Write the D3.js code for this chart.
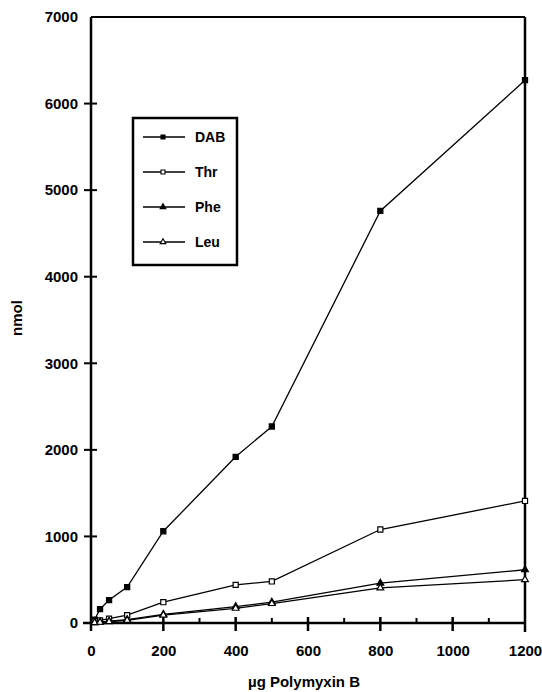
<!DOCTYPE html>
<html>
<head>
<meta charset="utf-8">
<script src="https://cdn.jsdelivr.net/npm/d3@7"></script>
<style>
body { margin: 0; background: #fff; }
text { font-family: "Liberation Sans", Arial, sans-serif; font-weight: bold; }
</style>
</head>
<body>
<svg id="chart" width="542" height="692"></svg>
<script>
// data
var doses = [10, 25, 50, 100, 200, 400, 500, 800, 1200];
var dab = [40, 160, 265, 415, 1060, 1920, 2270, 4760, 6270];
var thr = [20, 30, 50, 90, 240, 440, 480, 1080, 1410];
var phe = [5, 10, 20, 40, 100, 190, 240, 460, 615];
var leu = [5, 8, 15, 30, 90, 170, 225, 405, 500];
var seriesNames = ["DAB", "Thr", "Phe", "Leu"];
var xTicks = [0, 200, 400, 600, 800, 1000, 1200];
var xMinor = [100, 300, 500, 700, 900, 1100];
var yTicks = [0, 1000, 2000, 3000, 4000, 5000, 6000, 7000];

var svg = d3.select("#chart");

var x = d3.scaleLinear().domain([0, 1200]).range([91, 525]);
var y = d3.scaleLinear().domain([0, 7000]).range([623, 17]);

// frame top + right
svg.append("line").attr("x1", x(0)).attr("x2", x(1200)).attr("y1", y(7000)).attr("y2", y(7000))
  .attr("stroke", "#000").attr("stroke-width", 2);
svg.append("line").attr("x1", x(1200)).attr("x2", x(1200)).attr("y1", y(7000)).attr("y2", y(0) + 9)
  .attr("stroke", "#000").attr("stroke-width", 2.5);

// y axis
var yAxis = d3.axisLeft(y).tickValues(yTicks).tickSize(0).tickPadding(13).tickFormat(d3.format("d"));
var gy = svg.append("g").attr("transform", "translate(" + x(0) + ",0)").call(yAxis);
gy.select(".domain").remove();
gy.selectAll("text").attr("font-size", 15).attr("fill", "#000");
svg.append("line").attr("x1", x(0)).attr("x2", x(0)).attr("y1", y(7000)).attr("y2", y(0) + 8)
  .attr("stroke", "#000").attr("stroke-width", 2.5);
svg.selectAll(".ytick").data(yTicks.filter(function(d) { return d > 0 && d < 7000; })).enter()
  .append("line").attr("class", "ytick")
  .attr("x1", x(0) - 7).attr("x2", x(0) + 6)
  .attr("y1", function(d) { return y(d); }).attr("y2", function(d) { return y(d); })
  .attr("stroke", "#000").attr("stroke-width", 2);

// x axis
var xAxis = d3.axisBottom(x).tickValues(xTicks).tickSize(0).tickPadding(22).tickFormat(d3.format("d"));
var gx = svg.append("g").attr("transform", "translate(0," + y(0) + ")").call(xAxis);
gx.select(".domain").remove();
gx.selectAll("text").attr("font-size", 15).attr("fill", "#000");
svg.append("line").attr("x1", x(0) - 8).attr("x2", x(1200)).attr("y1", y(0)).attr("y2", y(0))
  .attr("stroke", "#000").attr("stroke-width", 2.5);
svg.selectAll(".xtick").data(xTicks.filter(function(d) { return d > 0 && d < 1200; })).enter()
  .append("line").attr("class", "xtick")
  .attr("x1", function(d) { return x(d); }).attr("x2", function(d) { return x(d); })
  .attr("y1", y(0) - 6).attr("y2", y(0) + 8)
  .attr("stroke", "#000").attr("stroke-width", 2.5);
svg.selectAll(".xminor").data(xMinor).enter()
  .append("line").attr("class", "xminor")
  .attr("x1", function(d) { return x(d); }).attr("x2", function(d) { return x(d); })
  .attr("y1", y(0) - 5).attr("y2", y(0))
  .attr("stroke", "#000").attr("stroke-width", 2);

// axis titles
svg.append("text").attr("x", 304).attr("y", 687).attr("text-anchor", "middle")
  .attr("font-size", 15).text("µg Polymyxin B");
svg.append("text").attr("transform", "translate(22,318) rotate(-90)").attr("text-anchor", "middle")
  .attr("font-size", 15).text("nmol");

// markers
var sqr = d3.symbol().type(d3.symbolSquare).size(26);
var tri = d3.symbol().type(d3.symbolTriangle).size(20);
var seriesList = [
  { name: "DAB", vals: dab, sym: sqr, fill: "#000" },
  { name: "Thr", vals: thr, sym: sqr, fill: "#fff" },
  { name: "Phe", vals: phe, sym: tri, fill: "#000" },
  { name: "Leu", vals: leu, sym: tri, fill: "#fff" }
];

var line = d3.line().x(function(d) { return x(d[0]); }).y(function(d) { return y(d[1]); });

seriesList.forEach(function(s) {
  var pts = doses.map(function(d, i) { return [d, s.vals[i]]; });
  svg.append("path").attr("d", line(pts)).attr("fill", "none").attr("stroke", "#000").attr("stroke-width", 1.3);
  svg.selectAll(".m" + s.name).data(pts).enter().append("path")
    .attr("transform", function(d) { return "translate(" + x(d[0]) + "," + y(d[1]) + ")"; })
    .attr("d", s.sym).attr("fill", s.fill).attr("stroke", "#000").attr("stroke-width", 1.2);
});

// legend
var lgSqr = d3.symbol().type(d3.symbolSquare).size(16);
var lgTri = d3.symbol().type(d3.symbolTriangle).size(14);
var lg = svg.append("g");
lg.append("rect").attr("x", 133).attr("y", 118).attr("width", 104).attr("height", 147)
  .attr("fill", "#fff").attr("stroke", "#000").attr("stroke-width", 2.5);
seriesList.forEach(function(s, i) {
  var ly = 137 + i * 35;
  lg.append("line").attr("x1", 143).attr("x2", 185).attr("y1", ly).attr("y2", ly)
    .attr("stroke", "#000").attr("stroke-width", 1.3);
  lg.append("path").attr("transform", "translate(163," + ly + ")").attr("d", s.sym === sqr ? lgSqr : lgTri)
    .attr("fill", s.fill).attr("stroke", "#000").attr("stroke-width", 1.1);
  lg.append("text").attr("x", 195).attr("y", ly + 5).attr("font-size", 14).text(s.name);
});
</script>
</body>
</html>
